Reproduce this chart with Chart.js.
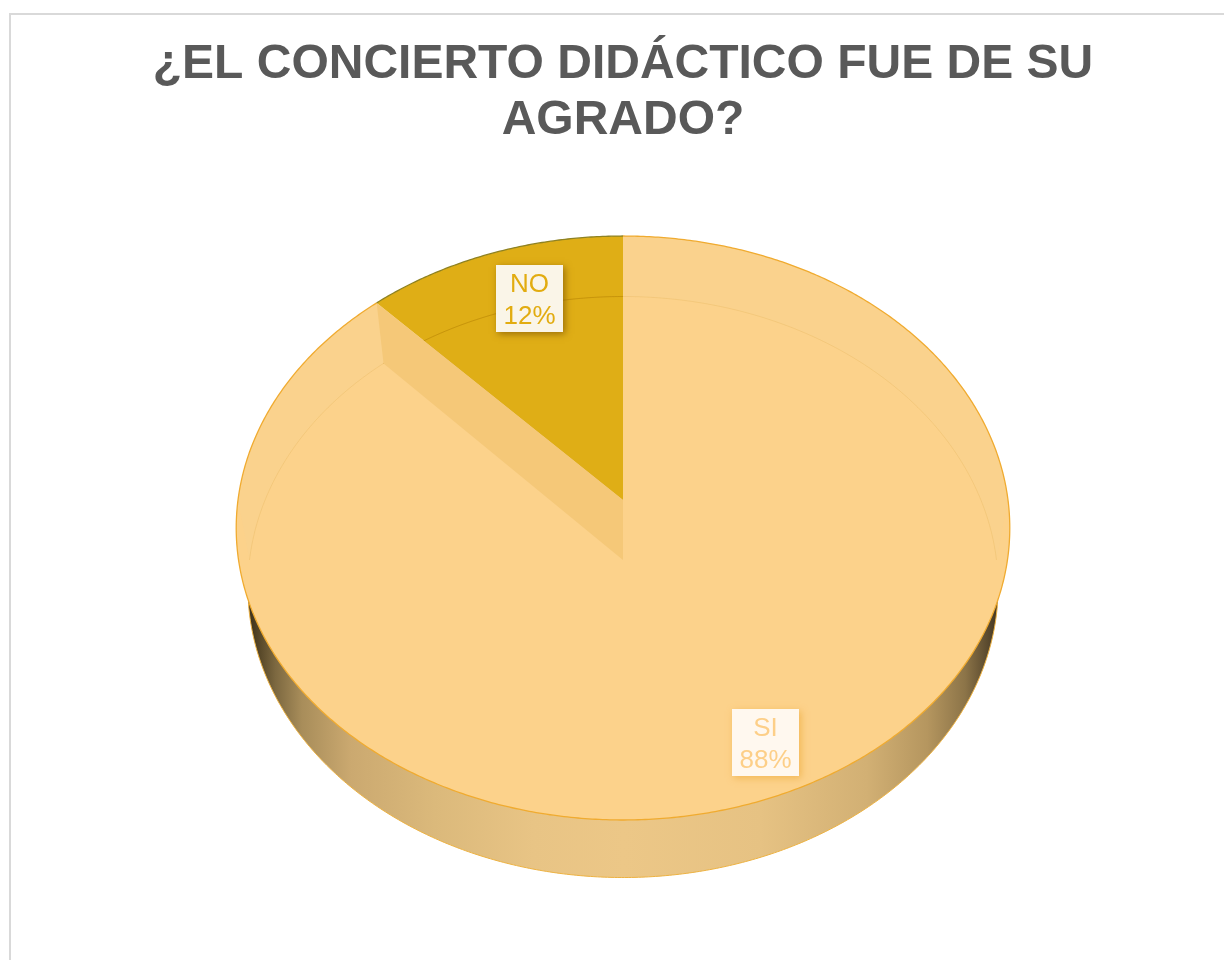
<!DOCTYPE html>
<html lang="es">
<head>
<meta charset="utf-8">
<title>¿El concierto didáctico fue de su agrado?</title>
<script src="https://cdn.jsdelivr.net/npm/chart.js@4"></script>
<style>
html,body{margin:0;padding:0;background:#fff;overflow:hidden}
#wrap{position:relative;width:1224px;height:960px}
#frame{position:absolute;left:9px;top:13px;width:1240px;height:980px;border:2px solid #D9D9D9;box-sizing:border-box}
canvas{position:absolute;left:0;top:0}
</style>
</head>
<body>
<div id="wrap"><div id="frame"></div><canvas id="c" width="1224" height="960"></canvas></div>
<script>
const titleLines = ['¿EL CONCIERTO DIDÁCTICO FUE DE SU', 'AGRADO?'];
const categories = ['SI', 'NO'];
const values = [88, 12];
const sliceColors = ['#FCD28B', '#DFAE16'];
const sliceEdges = ['#F0AB30', '#8F8222'];
const labelTextColors = ['#FDCF88', '#E2AC10'];

// Perspective of the tilted disc, in multiples of the pie radius the library computed.
const NOMINAL_R = 354;
const topPlane = {dy: 0, a: 385 / NOMINAL_R, b: 289.3 / NOMINAL_R, k: -0.0959};
const basePlane = {dy: 60 / NOMINAL_R, a: 373.5 / NOMINAL_R, b: 288 / NOMINAL_R, k: -0.093};
const labelCentres = [[765.5, 742.5], [529.5, 298.5]];

function project(arc, plane, angle) {
  const R = arc.outerRadius;
  const w = 1 + plane.k * Math.sin(angle);
  return [arc.x + plane.a * R * Math.cos(angle) / w,
          arc.y + plane.dy * R + plane.b * R * Math.sin(angle) / w];
}
function traceRim(ctx, arc, plane, from, to, move) {
  const n = Math.max(8, Math.ceil(Math.abs(to - from) * 120));
  for (let i = 0; i <= n; i++) {
    const p = project(arc, plane, from + (to - from) * i / n);
    if (i === 0 && move) ctx.moveTo(p[0], p[1]); else ctx.lineTo(p[0], p[1]);
  }
}
function fillSlice(ctx, arc) {
  ctx.beginPath();
  ctx.moveTo(arc.x, arc.y);
  traceRim(ctx, arc, topPlane, arc.startAngle, arc.endAngle, false);
  ctx.closePath();
  ctx.fillStyle = arc.options.backgroundColor;
  ctx.fill();
}

const disc3d = {
  id: 'disc3d',
  beforeDatasetsDraw(chart) {
    const ctx = chart.ctx;
    const arcs = chart.getDatasetMeta(0).data;
    const first = arcs[0];
    const no = arcs[1];
    const R = first.outerRadius;
    const left = first.x - 378 * R / NOMINAL_R, right = first.x + 380 * R / NOMINAL_R;
    ctx.save();

    // side wall
    const g = ctx.createLinearGradient(left, 0, right, 0);
    [[0, '#33281A'], [0.012, '#4A3C20'], [0.04, '#7C6840'], [0.075, '#A88D5A'], [0.14, '#CBA970'],
     [0.25, '#DBB97B'], [0.38, '#E8C485'], [0.5, '#ECC787'], [0.68, '#E6C283'], [0.82, '#D2B074'],
     [0.9, '#B5965F'], [0.95, '#8C7448'], [0.985, '#52432A'], [1, '#332818']]
      .forEach(s => g.addColorStop(s[0], s[1]));
    ctx.beginPath();
    traceRim(ctx, first, basePlane, 0, Math.PI * 2, true);
    ctx.closePath();
    ctx.fillStyle = g;
    ctx.fill();
    ctx.beginPath();
    traceRim(ctx, first, basePlane, 0.15, Math.PI - 0.15, true);
    ctx.strokeStyle = '#EDB242';
    ctx.lineWidth = 1;
    ctx.stroke();

    // top faces, with the paler crescent of the far wall seen through the SI slice
    fillSlice(ctx, first);
    ctx.beginPath();
    traceRim(ctx, first, topPlane, Math.PI, Math.PI * 2, true);
    traceRim(ctx, first, basePlane, Math.PI * 2, Math.PI, false);
    ctx.closePath();
    ctx.fillStyle = 'rgba(236,212,170,0.09)';
    ctx.fill();
    fillSlice(ctx, no);

    // far rim of the base seen through the translucent top
    ctx.beginPath();
    traceRim(ctx, first, basePlane, Math.PI, Math.PI * 2, true);
    ctx.strokeStyle = 'rgba(190,130,10,0.12)';
    ctx.lineWidth = 1;
    ctx.stroke();
    ctx.beginPath();
    traceRim(ctx, no, basePlane, no.startAngle, no.endAngle, true);
    ctx.strokeStyle = 'rgba(170,120,0,0.4)';
    ctx.stroke();

    // cut wall of the NO slice
    const a = no.startAngle;
    const t = project(no, topPlane, a), b = project(no, basePlane, a);
    ctx.beginPath();
    ctx.moveTo(t[0], t[1]);
    ctx.lineTo(b[0], b[1]);
    ctx.lineTo(no.x, no.y + basePlane.dy * no.outerRadius);
    ctx.lineTo(no.x, no.y);
    ctx.closePath();
    ctx.fillStyle = '#F5C878';
    ctx.fill();

    // rims of the top faces
    arcs.forEach(arc => {
      ctx.beginPath();
      traceRim(ctx, arc, topPlane, arc.startAngle, arc.endAngle, true);
      ctx.strokeStyle = arc.options.borderColor;
      ctx.lineWidth = 1.3;
      ctx.stroke();
    });
    ctx.restore();
    return false;
  },
  afterDraw(chart) {
    const ctx = chart.ctx;
    const total = values.reduce((s, v) => s + v, 0);
    const size = 67;
    categories.forEach((name, i) => {
      const [cx, cy] = labelCentres[i];
      ctx.save();
      ctx.shadowColor = i === 0 ? 'rgba(235,160,40,0.55)' : 'rgba(110,70,0,0.6)';
      ctx.shadowBlur = 7;
      ctx.shadowOffsetX = 2;
      ctx.shadowOffsetY = 2;
      ctx.fillStyle = '#FFFFFF';
      ctx.fillRect(cx - size / 2, cy - size / 2, size, size);
      ctx.shadowColor = 'transparent';
      ctx.fillStyle = i === 0 ? '#FFF8EF' : '#FAF5E8';
      ctx.fillRect(cx - size / 2, cy - size / 2, size, size);
      ctx.fillStyle = labelTextColors[i];
      ctx.font = '26px "Liberation Sans", Arial, sans-serif';
      ctx.textAlign = 'center';
      ctx.textBaseline = 'middle';
      ctx.fillText(name, cx, cy - 14);
      ctx.fillText(Math.round(values[i] / total * 100) + '%', cx, cy + 18);
      ctx.restore();
    });
  }
};

new Chart(document.getElementById('c'), {
  type: 'pie',
  data: {
    labels: categories,
    datasets: [{data: values, backgroundColor: sliceColors, borderColor: sliceEdges, borderWidth: 0}]
  },
  options: {
    responsive: false,
    animation: false,
    events: [],
    layout: {padding: {left: 22, right: 0, top: 0, bottom: 106}},
    plugins: {
      legend: {display: false},
      tooltip: {enabled: false},
      title: {
        display: true,
        text: titleLines,
        color: '#595959',
        font: {family: '"Liberation Sans", Arial, sans-serif', size: 48, weight: 'bold', lineHeight: 1.1667},
        padding: {top: 37, bottom: -3}
      }
    }
  },
  plugins: [disc3d]
});
</script>
</body>
</html>
